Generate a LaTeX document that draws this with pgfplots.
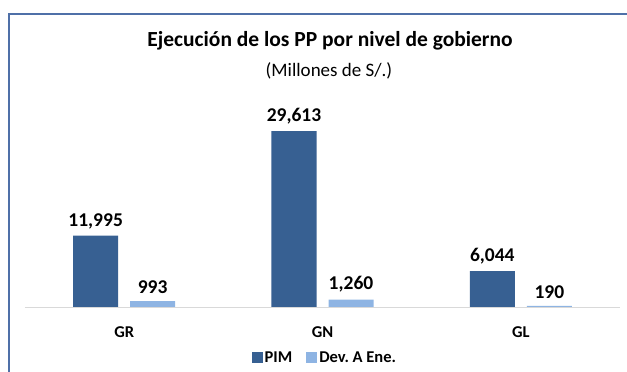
\documentclass[border=0pt]{standalone}
\usepackage{pgfplots}
\pgfplotsset{compat=1.18}
\usepackage{fontspec}
\setmainfont{Carlito}
\definecolor{pimblue}{RGB}{55,96,146}
\definecolor{devblue}{RGB}{142,180,227}
\definecolor{framecol}{RGB}{79,112,168}
\definecolor{basegray}{RGB}{217,217,217}
\begin{document}
\frenchspacing
\begin{tikzpicture}[x=1pt,y=1pt]
\path[use as bounding box] (0,0) rectangle (627,372);
% chart frame
\draw[framecol, line width=1.1pt] (9,0) -- (9,358) -- (627,358);
% titles
\node[font=\fontsize{21.5}{24}\selectfont\bfseries] at (330,331) {Ejecución de los PP por nivel de gobierno};
\node[font=\fontsize{19}{22}\selectfont] at (329,301) {(Millones de S/.)};
\begin{axis}[
  at={(25pt,65pt)}, anchor=south west,
  scale only axis, width=595pt, height=208pt,
  xmin=-0.5, xmax=2.5, ymin=0, ymax=35000,
  axis x line*=bottom, axis y line=none,
  x axis line style={draw=basegray, line width=0.8pt},
  xtick={0,1,2}, xticklabels={GR,GN,GL},
  major tick length=0pt,
  xticklabel style={font=\fontsize{16.5}{19}\selectfont\bfseries, yshift=-16.5pt},
  ybar, bar width=45pt,
  clip=false,
  /pgf/number format/.cd, assume math mode=true, fixed, 1000 sep={,}, /pgfplots/.cd,
  nodes near coords,
  every node near coord/.append style={font=\fontsize{19.5}{22}\selectfont\bfseries, text=black, yshift=3.5pt},
  legend style={at={(0.504,-0.243)}, anchor=center, draw=none, legend columns=2,
    font=\fontsize{16.5}{19}\selectfont\bfseries,
    /tikz/every odd column/.append style={column sep=0pt},
    /tikz/every even column/.append style={column sep=12pt},
    nodes={inner xsep=2pt}},
  legend image code/.code={\fill[#1] (0pt,-5.5pt) rectangle (11pt,5.5pt);},
]
\addplot[fill=pimblue, draw=none, bar shift=-28.5pt] coordinates {(0,11995) (1,29613) (2,6044)};
\addplot[fill=devblue, draw=none, bar shift=28.5pt] coordinates {(0,993) (1,1260) (2,190)};
\legend{PIM, Dev.\ A Ene.}
\end{axis}
\end{tikzpicture}
\end{document}
